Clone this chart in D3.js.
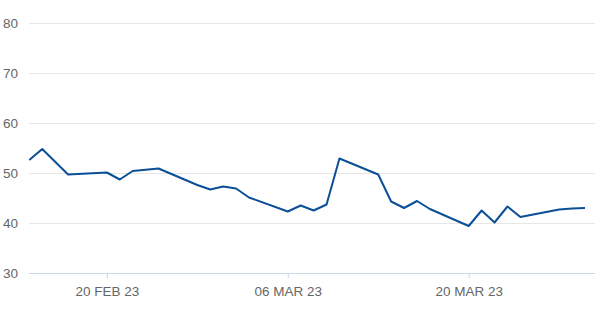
<!DOCTYPE html>
<html lang="en">
<head>
    <meta charset="UTF-8">
    <title>Price chart</title>
    <style>
        body {
            margin: 0;
            background: #fff;
        }

        svg {
            display: block;
        }

        text {
            font-family: "Liberation Sans", Arial, sans-serif;
            font-size: 13.5px;
            fill: #666;
        }

        .grid line {
            stroke: #e6e6e6;
            stroke-width: 1;
        }

        .line {
            fill: none;
            stroke: #0b4f96;
            stroke-width: 2;
            stroke-linejoin: round;
        }
    </style>
</head>
<body>
<svg class="chart"></svg>
<script src="https://cdn.jsdelivr.net/npm/d3@7"></script>
<script>

const dates = [
    "2023-02-14", "2023-02-15", "2023-02-17", "2023-02-20", "2023-02-21",
    "2023-02-22", "2023-02-24", "2023-02-27", "2023-02-28", "2023-03-01",
    "2023-03-02", "2023-03-03", "2023-03-06", "2023-03-07", "2023-03-08",
    "2023-03-09", "2023-03-10", "2023-03-13", "2023-03-14", "2023-03-15",
    "2023-03-16", "2023-03-17", "2023-03-20", "2023-03-21", "2023-03-22",
    "2023-03-23", "2023-03-24", "2023-03-27", "2023-03-28", "2023-03-29"
];

const values = [
    52.6, 54.8, 49.7, 50.1, 48.7,
    50.4, 50.9, 47.6, 46.7, 47.3,
    46.9, 45.1, 42.3, 43.5, 42.5,
    43.7, 52.9, 49.7, 44.3, 43.0,
    44.4, 42.8, 39.4, 42.5, 40.1,
    43.3, 41.2, 42.7, 42.9, 43.0
];

const yTicks = [30, 40, 50, 60, 70, 80];
const xTicks = ["2023-02-20", "2023-03-06", "2023-03-20"];

const width = 600, height = 314;
const parse = d3.utcParse("%Y-%m-%d");
const data = dates.map((d, i) => ({ date: parse(d), value: values[i] }));

const svg = d3.select("svg")
    .attr("width", width)
    .attr("height", height);

const x = d3.scaleUtc()
    .domain([parse(dates[0]), parse(dates[dates.length - 1])])
    .range([29.3, 585]);

const y = d3.scaleLinear()
    .domain([30, 80])
    .range([273, 23]);

// horizontal gridlines
svg.append("g")
    .attr("class", "grid")
    .selectAll("line")
    .data(yTicks.slice(1))
    .join("line")
    .attr("x1", 29)
    .attr("x2", 595)
    .attr("y1", d => Math.round(y(d)) + 0.5)
    .attr("y2", d => Math.round(y(d)) + 0.5);

// y labels
svg.append("g")
    .selectAll("text")
    .data(yTicks)
    .join("text")
    .attr("x", 3)
    .attr("y", d => y(d) + 4.5)
    .text(d => d);

// x axis
const xAxis = d3.axisBottom(x)
    .tickValues(xTicks.map(parse))
    .tickSize(5)
    .tickPadding(5)
    .tickFormat(d => d3.utcFormat("%d %b %y")(d).toUpperCase());

const gx = svg.append("g")
    .attr("transform", `translate(0,${Math.round(y(30)) + 0.5})`)
    .call(xAxis);

gx.select(".domain")
    .attr("d", "M29,0H595")
    .attr("stroke", "#ccd6eb");
gx.selectAll(".tick line").attr("stroke", "#ccd6eb");
gx.selectAll(".tick text")
    .attr("font-family", null)
    .attr("font-size", null)
    .attr("fill", null)
    .attr("dy", "0.9em");

// price line
const line = d3.line()
    .x(d => x(d.date))
    .y(d => y(d.value));

svg.append("path")
    .datum(data)
    .attr("class", "line")
    .attr("d", line);

</script>
</body>
</html>
